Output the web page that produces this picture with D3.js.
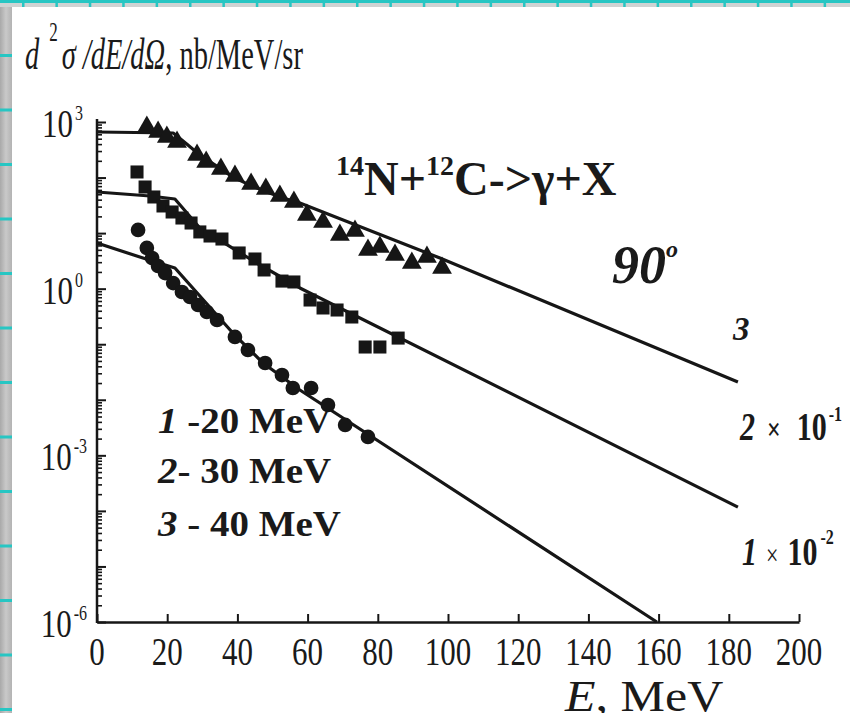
<!DOCTYPE html>
<html><head><meta charset="utf-8">
<script src="https://cdn.jsdelivr.net/npm/d3@7"></script>
<style>
html,body{margin:0;padding:0;background:#fff;}
svg{display:block;}
text{font-family:"Liberation Serif","Times New Roman",serif;fill:#1a1a1a;}
</style></head><body>
<svg id="chart" width="850" height="713"></svg>
<script>
// Photon energy spectra, 14N + 12C -> gamma + X at 90 degrees
const energyTicks = [0, 20, 40, 60, 80, 100, 120, 140, 160, 180, 200];
const decadeLabels = [3, 0, -3, -6];

// measured points: 40 MeV (triangles), 30 MeV (squares), 20 MeV (circles)
const triE = [14.2, 17.4, 19.9, 22.8, 28.5, 31.1, 35.3, 39.3, 43.9, 48.1, 52.1, 56.1, 59.8, 64.4, 69.2, 73.5, 77.2, 80.6, 84.9, 89.7, 94.0, 98.3];
const triV = [813, 661, 537, 437, 255, 191, 143, 107, 76.6, 62.2, 46.6, 36.3, 21.2, 15.8, 9.25, 10.9, 4.97, 5.62, 4.04, 2.90, 3.72, 2.36];
const sqE = [11.4, 13.7, 16.2, 18.8, 21.4, 24.2, 26.8, 29.3, 32.2, 35.6, 40.5, 45.0, 47.6, 52.7, 56.1, 60.7, 64.4, 68.4, 72.6, 76.4, 80.6, 85.8];
const sqV = [126, 67.6, 44.7, 30.8, 24.0, 18.7, 15.2, 10.5, 8.87, 7.83, 4.39, 3.42, 2.17, 1.37, 1.32, 0.625, 0.449, 0.413, 0.309, 0.0891, 0.0891, 0.129];
const cirE = [11.7, 14.2, 15.7, 17.4, 19.4, 21.7, 24.2, 26.5, 28.8, 31.3, 34.2, 39.3, 43.0, 47.9, 52.7, 55.8, 61.0, 65.8, 70.7, 77.2];
const cirV = [11.4, 5.40, 3.56, 2.56, 1.91, 1.26, 0.871, 0.708, 0.508, 0.380, 0.273, 0.135, 0.0787, 0.0459, 0.0279, 0.0163, 0.0163, 0.00805, 0.00352, 0.00214];

// calculated spectra (curves 3, 2 x 1e-1, 1 x 1e-2)
const curve3E = [0, 21.7, 25.3, 29.3, 33.9, 38.7, 43.6, 48.4, 53.0, 57.8, 97.7, 182.6];
const curve3V = [661, 634, 415, 255, 165, 102, 73, 55, 43, 34.8, 3.56, 0.0209];
const curve2E = [0, 15.1, 22.2, 29.3, 45.0, 57.8, 182.6];
const curve2V = [55, 46.6, 41.1, 12.4, 3.02, 1.03, 0.000117];
const curve1E = [0, 13.1, 22.2, 38.7, 47.3, 57.8, 159.5];
const curve1V = [6.64, 3.56, 2.36, 0.159, 0.0459, 0.0150, 1e-6];

const svg = d3.select("#chart");
const W = 850, H = 713;
const ink = "#161616";
const teal = "#27c6c3";

// slide frame: grey bands with teal ruler marks
const defs = svg.append("defs");
const lg = defs.append("linearGradient").attr("id", "band").attr("x1", 0).attr("x2", 1);
lg.append("stop").attr("offset", 0).attr("stop-color", "#a9a9a9");
lg.append("stop").attr("offset", 0.5).attr("stop-color", "#c9c9c9");
lg.append("stop").attr("offset", 1).attr("stop-color", "#b3b3b3");
svg.append("rect").attr("x", 0).attr("y", 0).attr("width", 12).attr("height", H).attr("fill", "url(#band)");
svg.append("rect").attr("x", 0).attr("y", 0).attr("width", W).attr("height", 7).attr("fill", "#cfd3d3");
svg.append("rect").attr("x", 0).attr("y", 0).attr("width", W).attr("height", 3).attr("fill", teal);
d3.range(0, 26).forEach(i => {
  svg.append("rect").attr("x", 22 + i * 33.4).attr("y", 0).attr("width", 2.5).attr("height", 7).attr("fill", teal);
});
d3.range(0, 13).forEach(i => {
  svg.append("rect").attr("x", 0).attr("y", 54 + i * 54.5).attr("width", 12).attr("height", 3).attr("fill", teal);
});

const x = d3.scaleLinear().domain([0, 200]).range([97, 799]);
const y = d3.scaleLog().domain([1e-6, 1e3]).range([622, 122]);

// text helper: glyphs stretched vertically by sy
function label(px, py, sy, size) {
  return svg.append("g").attr("transform", `translate(${px},${py}) scale(1,${sy})`)
    .append("text").attr("font-size", size);
}

// axes
const gx = svg.append("g").attr("transform", `translate(0,${y(1e-6)})`)
  .call(d3.axisBottom(x).tickValues(energyTicks).tickSizeInner(-8).tickSizeOuter(0).tickFormat(""));
gx.select(".domain").attr("stroke", ink).attr("stroke-width", 2.5);
gx.selectAll(".tick line").attr("stroke", ink).attr("stroke-width", 2);

const majors = d3.range(-6, 4).map(e => Math.pow(10, e));
const minors = [];
d3.range(-6, 3).forEach(e => { for (let k = 2; k <= 9; k++) minors.push(k * Math.pow(10, e)); });
const gyMin = svg.append("g").attr("transform", `translate(${x(0)},0)`)
  .call(d3.axisLeft(y).tickValues(minors).tickSizeInner(-5).tickSizeOuter(0).tickFormat(""));
gyMin.select(".domain").remove();
gyMin.selectAll(".tick line").attr("stroke", ink).attr("stroke-width", 1.6);
const gy = svg.append("g").attr("transform", `translate(${x(0)},0)`)
  .call(d3.axisLeft(y).tickValues(majors).tickSizeInner(-9).tickSizeOuter(0).tickFormat(""));
gy.select(".domain").remove();
gy.selectAll(".tick line").attr("stroke", ink).attr("stroke-width", 2);
svg.append("line").attr("x1", x(0)).attr("x2", x(0)).attr("y1", y(1e-6) + 1).attr("y2", y(1e3) - 3)
  .attr("stroke", ink).attr("stroke-width", 2.5);

// tick labels
energyTicks.forEach(v => {
  label(x(v), 665, 1.3, 31).attr("text-anchor", "middle").text(v);
});
decadeLabels.forEach(e => {
  const py = y(Math.pow(10, e)) + 15;
  const t = label(e >= 0 ? 83 : 87, py, 1.3, 31).attr("text-anchor", "end");
  t.append("tspan").text("10");
  t.append("tspan").attr("font-size", 16).attr("dx", 2).attr("dy", -13).text(e < 0 ? "-" + Math.abs(e) : String(e));
});

// axis titles
const t1 = label(25, 69, 1.55, 28.5);
t1.append("tspan").attr("font-style", "italic").text("d");
t1.append("tspan").attr("font-size", 17).attr("dy", -18).attr("dx", 10).text("2");
t1.append("tspan").attr("font-style", "italic").attr("dy", 18).attr("dx", 4).text("σ /dE/dΩ");
t1.append("tspan").text(", nb/MeV/sr");

const t2 = label(565, 711, 0.9, 50);
t2.append("tspan").attr("font-style", "italic").text("E");
t2.append("tspan").text(", MeV");

// reaction and angle
const t3 = label(336, 195, 1.0, 48).attr("font-weight", "bold");
t3.append("tspan").attr("font-size", 28).attr("dy", -20).text("14");
t3.append("tspan").attr("dy", 20).text("N+");
t3.append("tspan").attr("font-size", 28).attr("dy", -20).text("12");
t3.append("tspan").attr("dy", 20).text("C->γ+X");

const t4 = label(612, 283, 1.0, 54).attr("font-weight", "bold").attr("font-style", "italic");
t4.append("tspan").text("90");
t4.append("tspan").attr("font-size", 24).attr("dy", -26).text("o");

// curve tags
label(733, 340, 1.0, 33).attr("font-weight", "bold").attr("font-style", "italic").text("3");
const c2 = label(740, 440, 1.3, 30).attr("font-weight", "bold");
c2.append("tspan").attr("font-style", "italic").text("2");
c2.append("tspan").attr("font-size", 24).attr("dx", 12).text("×");
c2.append("tspan").attr("dx", 16).text("10");
c2.append("tspan").attr("font-size", 16).attr("dx", 2).attr("dy", -15).text("-1");
const c1 = label(742, 565, 1.3, 30).attr("font-weight", "bold");
c1.append("tspan").attr("font-style", "italic").text("1");
c1.append("tspan").attr("font-size", 22).attr("font-weight", "normal").attr("dx", 9).text("×");
c1.append("tspan").attr("dx", 9).text("10");
c1.append("tspan").attr("font-size", 16).attr("dx", 3).attr("dy", -16).text("-2");

// legend
[["1", " -20 MeV", 433], ["2", "- 30 MeV", 483], ["3", " - 40 MeV", 536]].forEach(d => {
  const t = label(158, d[2], 0.9, 39).attr("font-weight", "bold");
  t.append("tspan").attr("font-style", "italic").text(d[0]);
  t.append("tspan").text(d[1]);
});

// calculated curves
const line = d3.line().x(d => x(d[0])).y(d => y(d[1]));
[[curve3E, curve3V], [curve2E, curve2V], [curve1E, curve1V]].forEach(c => {
  svg.append("path").attr("d", line(d3.zip(c[0], c[1])))
    .attr("fill", "none").attr("stroke", ink).attr("stroke-width", 3.2).attr("stroke-linejoin", "round");
});

// measured points
function markers(E, V, type, size) {
  svg.append("g").selectAll("path").data(d3.zip(E, V)).join("path")
    .attr("transform", d => `translate(${x(d[0])},${y(d[1])})`)
    .attr("d", d3.symbol().type(type).size(size)())
    .attr("fill", ink);
}
markers(triE, triV, d3.symbolTriangle, 170);
markers(sqE, sqV, d3.symbolSquare, 170);
markers(cirE, cirV, d3.symbolCircle, 170);
</script></body></html>
